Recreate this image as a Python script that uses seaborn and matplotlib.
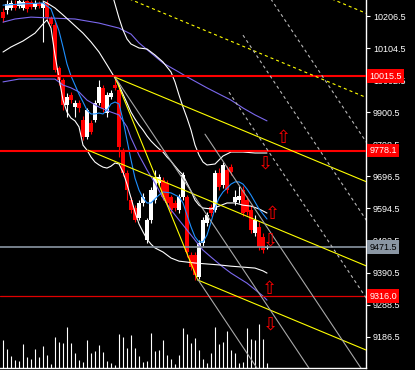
import numpy as np
import pandas as pd
import matplotlib
matplotlib.use("Agg")
import matplotlib.pyplot as plt
import seaborn as sns

# ---------------- data ----------------
opens = [10219,10225,10232,10244,10238,10232,10254,10251,10235,10248,10232,10248,10200,10177,10041,10003,
         9923,9955,9917,9929,9875,9821,9866,9875,9929,9977,9898,9949,9987,9971,9780,9707,9621,9596,9564,9612,
         9494,9557,9621,9675,9685,9675,9631,9612,9589,9631,9631,9446,9446,9376,9484,9548,9599,9589,9707,9669,
         9716,9726,9615,9621,9653,9621,9589,9516,9535,9503,9468]
highs = [10232,10257,10257,10257,10260,10257,10257,10257,10257,10254,10254,10257,10206,10187,10047,10009,
         9961,9964,9939,9939,9888,9914,9875,9939,10003,9987,9964,9971,10012,9977,9786,9716,9631,9605,9621,9643,
         9564,9662,9716,9704,9694,9685,9637,9621,9640,9710,9637,9456,9456,9494,9567,9583,9608,9716,9723,9742,
         9729,9736,9653,9666,9666,9634,9605,9573,9551,9516,9478]
lows = [10187,10212,10225,10225,10232,10225,10219,10228,10228,10232,10123,10193,10174,10028,9987,9907,
        9885,9929,9885,9901,9812,9815,9831,9869,9923,9901,9885,9942,9971,9758,9697,9621,9580,9551,9557,9602,
        9484,9548,9612,9666,9621,9602,9580,9586,9580,9621,9440,9398,9367,9370,9475,9538,9570,9583,9653,9659,
        9643,9701,9605,9612,9570,9573,9516,9507,9462,9452,9465]
closes = [10200,10244,10248,10232,10254,10251,10228,10235,10248,10238,10248,10203,10181,10034,10003,9923,
          9949,9939,9929,9914,9821,9907,9837,9929,9980,9914,9955,9961,9977,9790,9707,9653,9589,9557,9612,9631,
          9557,9653,9694,9694,9631,9612,9589,9596,9631,9701,9456,9408,9383,9484,9557,9573,9580,9707,9662,9732,
          9653,9710,9631,9634,9580,9583,9526,9557,9472,9462,9472]
volumes = [280,190,120,80,70,240,110,90,190,110,220,130,40,310,260,250,410,250,150,80,60,280,150,170,230,
           160,70,50,30,340,310,200,330,200,120,60,70,350,170,180,280,130,90,40,130,400,340,250,300,180,90,
           50,150,410,240,260,370,180,150,50,60,400,290,280,440,290,50]

# indicator lines
ub_idx = [26,27.5,29,30,31,32,34,36,38,40,42,43,44,45,46,47,48,49,50,51,53,55,57,60,63,66]
ub_val = [10321.0,10266.9,10200.2,10162.0,10133.4,10117.5,10104.8,10101.6,10082.5,10060.2,10028.4,9996.6,
          9955.3,9917.1,9882.2,9844.0,9796.3,9764.5,9742.2,9732.7,9735.9,9761.3,9774.0,9774.0,9770.9,9770.9]
mb_idx = [10,11,13,15,17,20,22,24,26,28,29,30,31,32,33,34,35,36,37,38,39,40,41,42,43,44,45,46,47,48,49,50,
          52,54,56,58,60,62,64,66]
mb_val = [10254,10248,10232,10210,10187,10152,10124,10092,10051,10009,9987,9958,9930,9901,9879,9860,9844,9825,
          9809,9796,9784,9774,9758,9745,9729,9714,9701,9675,9650,9621,9605,9596,9593,9602,9612,9612,9605,9602,
          9593,9580]
lb_idx = [0,2,5,8,10,11,12,13,14,15,16,17,18,19,20,21,22,23,24,25,26,27,28,29,30,31,32,33,34,35,36,37,38,
          40,42,44,46,48,51,54,57,60,63,65,66]
lb_val = [10092,10108,10127,10152,10181,10194,10168,10082,10009,9939,9901,9882,9873,9854,9796,9780,9758,9742,
          9733,9726,9723,9729,9739,9736,9710,9672,9628,9583,9545,9520,9497,9481,9469,9456,9437,9427,9424,9421,
          9418,9415,9411,9408,9405,9396,9389]
fast_idx = [0,5,10,12,13,14,15,16,17,18,19,20,21,22,23,24,25,26,27,28,29,30,31,32,33,34,35,36,37,38,39,40,
            42,44,45,46,47,48,49,50,51,52,53,54,55,56,57,58,59,60,61,62,63,64,65,66]
fast_val = [10241,10245,10248,10229,10194,10159,10108,10054,10016,9987,9958,9933,9907,9895,9895,9898,9895,
            9907,9927,9933,9927,9876,9812,9749,9691,9653,9628,9612,9612,9625,9637,9647,9644,9631,9612,9574,
            9536,9504,9488,9488,9510,9551,9596,9628,9647,9659,9672,9679,9679,9672,9656,9637,9615,9593,9577,9561]
pu_idx = [0,3,7,12,18,24,29,32,34,37,40,44,46,51,57,60,63,66]
pu_val = [10187,10197,10203,10200,10197,10184,10168,10149,10121,10089,10057,10028,10013,9978,9939,9914,9892,9873]
pl_idx = [0,4,13,15,17,19,21,24,27,29,31,32,34,36,38,40,42,45,48,50,52,55,57,61,65,66]
pl_val = [9997,10006,10006,9987,9978,9965,9939,9917,9901,9892,9854,9819,9764,9717,9675,9628,9590,9542,9494,
          9462,9440,9408,9389,9357,9316,9303]

# horizontal levels
red_levels = [10015.5, 9778.1, 9316.0]
grey_level = 9471.5
yticks = [10206.5, 10104.5, 10002.5, 9900.5, 9798.5, 9696.5, 9594.5, 9492.5, 9390.5, 9288.5, 9186.5]

# pitchfork pivots (bar index, price)
p0 = (21.25, 9780.0)
p1 = (28.0, 10012.0)
p2 = (48.7, 9367.0)
p3 = (55.0, 9742.0)
fan_slope = -19.08     # price per bar
fan_step = 13.0        # bars between parallel lines

# signal arrows
up_idx = [70, 67.25, 66.5]
up_val = [9819, 9577, 9338]
dn_idx = [65.5, 66.75, 66.75]
dn_val = [9736, 9491, 9227]

# ---------------- style ----------------
sns.set_style("dark")
plt.rcParams['font.family'] = ['Liberation Sans', 'DejaVu Sans']
plt.rcParams['lines.scale_dashes'] = False

W, H = 415, 370
fig = plt.figure(figsize=(W/100, H/100), dpi=100, facecolor='black')
ax_vol = fig.add_axes([0, 2/H, 366/W, 368/H])
ax_vol.set_facecolor('black')
ax = ax_vol.twinx()
ax.patch.set_visible(False)

x0, x1 = -0.75, 90.75
ymin, ymax = 9087.2, 10257.4
for a in (ax, ax_vol):
    a.set_xlim(x0, x1)
    a.grid(False)
    for s in a.spines.values():
        s.set_visible(False)
ax.set_ylim(ymin, ymax)
ax_vol.set_ylim(0, 3680)

# volume
vol = pd.DataFrame({'i': np.arange(len(volumes)), 'v': volumes})
ax_vol.vlines(vol.i, 0, vol.v, colors='white', lw=0.8)
ax_vol.set_yticks([])
ax_vol.set_xticks([])

# candles
df = pd.DataFrame({'i': np.arange(len(opens)), 'o': opens, 'h': highs, 'l': lows, 'c': closes})
col = np.where(df.c >= df.o, 'white', '#ff0000')
ax.vlines(df.i, df.l, df.h, colors=col, lw=0.8, zorder=2)
bot = np.minimum(df.o, df.c)
hgt = np.maximum(np.abs(df.c - df.o), 3.0)
ax.bar(df.i, hgt, bottom=bot, width=0.8, color=col, linewidth=0, zorder=2)

# indicators
def line(xs, ys, color, lw=0.8, **kw):
    sns.lineplot(x=xs, y=ys, ax=ax, color=color, lw=lw, estimator=None, sort=False,
                 legend=False, zorder=3, **kw)

line(pu_idx, pu_val, '#7b68ee')
line(pl_idx, pl_val, '#7b68ee')
line(ub_idx, ub_val, 'white')
line(mb_idx, mb_val, 'white')
line(lb_idx, lb_val, 'white')
line(fast_idx, fast_val, '#1e90ff')

# horizontal levels
ax.axhline(red_levels[0], color='#ff0000', lw=1.5, zorder=4)
ax.axhline(red_levels[1], color='#ff0000', lw=1.5, zorder=4)
ax.axhline(red_levels[2], color='#e00000', lw=0.9, zorder=4)
ax.axhline(grey_level, color='#8a96a3', lw=1.2, zorder=4)

# pitchfork (yellow)
mid = ((p1[0] + p2[0]) / 2, (p1[1] + p2[1]) / 2)
k = (mid[1] - p0[1]) / (mid[0] - p0[0])
xe = 92.0
def seg(pa, xb, color, ls='-', lw=0.8, dashes=None):
    xs = [pa[0], xb]
    ys = [pa[1], pa[1] + k * (xb - pa[0])]
    l, = ax.plot(xs, ys, color=color, lw=lw, ls=ls, zorder=4)
    if dashes:
        l.set_dashes(dashes)
seg(p0, xe, '#ffff00')
seg(p1, xe, '#ffff00')
seg(p2, xe, '#ffff00')
ax.plot([p1[0], p2[0]], [p1[1], p2[1]], color='#ffff00', lw=0.8, zorder=4)
gap = p1[1] + k * (p2[0] - p1[0]) - p2[1]
for f in (0.5, 1.0):
    seg((p1[0], p1[1] + f * gap), xe, '#ffff00', dashes=(2.2, 2.2))

# parallel grey lines
starts = {-1: p2[0], 0: p1[0], 1: 50.5, 2: 56.5, 3: 60.0, 4: 62.0}
for n, xs in starts.items():
    ref = p1[0] + n * fan_step
    xx = np.array([xs, xe])
    yy = p1[1] + fan_slope * (xx - ref)
    if n <= 1:
        ax.plot(xx, yy, color='#a8a8a8', lw=0.8, zorder=4)
    else:
        l, = ax.plot(xx, yy, color='#b8b8b8', lw=0.8, zorder=4)
        l.set_dashes((2.2, 2.2))

# arrows
for xi, yv in zip(up_idx, up_val):
    ax.text(xi, yv, '\u21e7', color='#ff0000', fontsize=13, ha='center', va='center',
            family='DejaVu Sans', zorder=6)
for xi, yv in zip(dn_idx, dn_val):
    ax.text(xi, yv, '\u21e9', color='#ff0000', fontsize=13, ha='center', va='center',
            family='DejaVu Sans', zorder=6)

# axis
ax.spines['right'].set_visible(True)
ax.spines['right'].set_color('white')
ax.spines['right'].set_linewidth(1.0)
ax_vol.spines['bottom'].set_visible(True)
ax_vol.spines['bottom'].set_color('white')
ax_vol.spines['bottom'].set_linewidth(1.0)
ax.set_yticks(yticks)
ax.set_yticklabels([f"{t:.1f}" for t in yticks])
ax.tick_params(axis='y', which='both', direction='out', length=3, width=0.8, color='white',
               labelcolor='white', labelsize=6.5, pad=2, right=True, left=False)
ax.set_xticks([])
ax.set_xlabel('')
ax.set_ylabel('')

# level labels
def tag(val, fc, tc):
    ax.annotate(f"{val:.1f}", xy=(1, val), xycoords=ax.get_yaxis_transform(),
                xytext=(2.5, 0), textcoords='offset points', ha='left', va='center',
                fontsize=6.5, color=tc, zorder=10, annotation_clip=False,
                bbox=dict(boxstyle='square,pad=0.25', fc=fc, ec='none'))
tag(red_levels[0], '#ff0000', 'white')
tag(red_levels[1], '#ff0000', 'white')
tag(grey_level, '#8a96a3', 'black')
tag(red_levels[2], '#ff0000', 'white')

fig.savefig('out.png', dpi=100, facecolor='black')
